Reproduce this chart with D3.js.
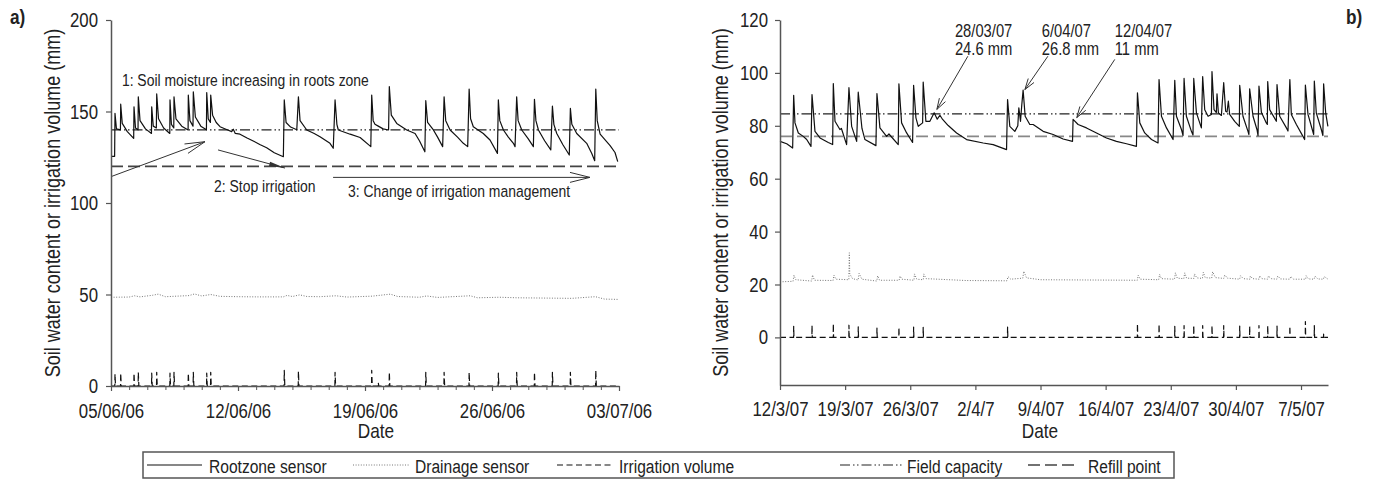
<!DOCTYPE html>
<html><head><meta charset="utf-8">
<script src="https://cdn.jsdelivr.net/npm/d3@7"></script>
<style>
body{margin:0;background:#fff;}
svg text{font-family:'Liberation Sans',Arial,Helvetica,sans-serif;fill:#222;}
</style></head><body>
<svg id="c" width="1378" height="487"></svg>
<script>
// ---------------- DATA ----------------
// Panel a: days since 05/06/2006 ; Panel b: days since 12/03/2007
const rootzoneA = [
[0,125.5],[0.2,125.5],[0.22,149],[0.3,140.5],[0.52,140],[0.535,154],[0.62,143.5],[0.9,139],[1.25,135.3],
[1.268,152.6],[1.35,141],[1.49,140],[1.505,158],[1.6,145],[1.9,140.5],[2.23,138],
[2.244,152.6],[2.33,142],[2.5,141],[2.519,159.6],[2.62,146],[2.9,141],[3.24,138],
[3.252,156.3],[3.33,143],[3.46,141],[3.473,158],[3.58,146],[3.9,142],[4.25,139.9],
[4.261,159],[4.35,145],[4.52,142],[4.537,160.8],[4.65,147],[4.95,142],[5.26,140],
[5.276,160.3],[5.36,146],[5.48,144],[5.496,159],[5.6,148],[5.8,144],[6.01,141.7],[6.4,140],[6.65,139],[6.74,140.3],[6.85,138],[7.11,137.6],[7.5,135.5],[7.84,133.9],[8.2,132],[8.58,130.2],[9.0,127.5],[9.5,125.3],
[9.55,156.3],[9.65,144],[9.9,141.5],[10.24,140],[10.33,158],[10.42,145],[10.79,139.9],[11.2,138],[11.52,136.2],[12.07,132.6],[12.25,129.9],
[12.35,156.3],[12.45,143],[12.53,139.9],[13.18,137.6],[13.73,135.8],[14.32,130.8],
[14.37,159],[14.45,145],[14.55,143],[14.73,142],[15.0,140.5],[15.3,139.9],
[15.34,163.6],[15.45,148],[15.75,143.5],[16.3,139.9],[16.76,138],[17.0,134],[17.3,128],
[17.35,155.9],[17.45,144],[17.77,139.9],[18.0,136],[18.28,130.8],
[18.36,158],[18.45,145],[18.69,139.9],[19.1,136],[19.42,132.6],[19.66,130.8],
[19.74,162.3],[19.82,146],[19.97,141.7],[20.52,138],[20.89,134.4],[21.3,127.1],
[21.35,156.3],[21.43,145],[21.63,139.9],[21.9,136],[22.18,132.6],[22.27,130.8],
[22.36,158],[22.44,145],[22.64,139.9],[23.0,135],[23.28,130.8],
[23.34,156.7],[23.42,145],[23.56,139.9],[23.9,134],[24.24,129],
[24.33,153],[24.41,143],[24.57,138],[24.9,132],[25.26,126.2],
[25.32,151.7],[25.4,143],[25.67,138],[26.22,132.6],[26.5,127],[26.66,123.1],
[26.72,162.3],[26.8,145],[26.96,137.6],[27.51,131.3],[27.78,127.6],[27.93,122.6]
];
const drainageA = [
[0,48.5],[1.0,48.6],[1.3,49.3],[1.6,48.7],[2.3,49.6],[2.6,50.2],[3.0,48.8],[4.3,49.4],[4.6,50.3],[5.0,49.2],[5.5,50],[6,49],[7,48.8],[8,48.7],[9.5,48.7],[9.7,49.5],[10.0,48.9],[10.4,49.8],[10.8,48.9],[11.5,48.8],[12.4,49.3],[13,48.6],[14.4,49.1],[15.4,50.2],[15.8,48.9],[17,48.5],[17.4,49.2],[18,48.4],[19.8,49.3],[20.2,48.2],[21.4,48.5],[22.4,48.2],[23.4,48.1],[24.4,48],[25.4,47.9],[26.7,48.8],[27.2,47.5],[28,47.3]
];
const irrigationA = [[0.22,6.5],[0.535,7],[1.268,7],[1.505,7.5],[2.244,7],[2.519,7.5],[3.252,7],[3.473,7.5],[4.261,7],[4.537,7.5],[5.276,7],[5.496,7.5],[9.55,8.5],[10.33,8],[12.35,7.5],[14.37,8.5],[14.73,2],[15.34,7.5],[17.35,7.5],[18.36,7.5],[19.74,7.5],[21.35,7],[22.36,7.5],[23.34,7.5],[24.33,7.5],[25.32,7.5],[26.72,8.5]];
const fieldCapacityA = 140, refillPointA = 120;

const rootzoneB = [
[0,74.1],[0.72,73.2],[1.36,71.6],[1.47,91.5],[1.61,81.1],[1.97,77.3],[2.5,76],[2.87,74.8],[3.33,72.2],
[3.44,91.8],[3.76,77.9],[4.3,75.4],[5.19,73.7],[5.66,72.9],
[5.73,96],[5.91,81.7],[6.44,78.6],[6.6,79],[7.16,72.9],
[7.41,94.4],[7.7,79.8],[8.24,74.1],[8.41,92.7],[8.81,79],[9.13,74.8],[10.31,72.5],
[10.42,92.2],[10.74,79.2],[11.46,76],[11.71,76.9],[12.71,72.9],
[12.78,95.9],[13.07,81.1],[13.61,77.3],[14.25,73.7],
[14.36,95.3],[14.61,83],[14.86,79.8],[15.33,81.1],
[15.39,96.5],[15.68,81.7],[16.11,81.7],[16.57,84.9],[16.9,82.5],[17.19,84],[17.48,82.4],[18.08,80.1],[18.98,77.3],[20.05,74.8],[21.84,73.5],[22.91,72.9],[24.35,71],
[24.46,89.9],[24.7,79.8],[25.24,77.9],[25.56,80],[25.67,86.8],[25.85,81.7],[25.99,88],[26.13,93.5],[26.35,83.6],[26.85,80.5],[27.21,80.5],[28.28,77.9],[29.36,76.7],[30.43,75],[31.44,74.1],
[31.5,82.4],[32.04,80.5],[32.94,79.2],[34.02,77.3],[35.09,75.4],[36.16,74.1],[37.24,73.2],[38.31,72.2],
[38.42,92.5],[38.67,81.1],[39.2,77.3],[39.93,74.8],[40.63,73.5],
[40.74,97.5],[41.0,83.6],[41.54,79.2],[42.25,74.8],
[42.43,97.2],[42.61,83.6],[43.15,78.6],[43.32,76.3],
[43.43,97.9],[43.68,83.6],[44.22,77.9],[44.39,76.5],
[44.47,97.9],[44.76,84.9],[45.29,79.2],
[45.43,98.6],[45.65,86.1],[46.01,83.6],[46.37,84.3],
[46.43,100.5],[46.65,86.1],[46.9,85],[46.97,92.1],[47.12,84.9],[47.44,83.9],
[47.69,96.3],[47.9,85.5],[48.05,85.2],[48.19,89.3],[48.33,84.3],[48.87,81.7],[49.37,79.8],
[49.41,95.3],[49.76,83.6],[50.3,77.9],[50.4,76.7],
[50.48,94],[50.84,83.6],[51.27,78.5],[51.38,76.3],
[51.48,95],[51.74,85.1],[52.27,81.1],[52.38,80.5],
[52.42,96.7],[52.63,86.1],[53.35,81.7],
[53.42,95.6],[53.71,83.6],[54.43,79.2],[54.6,78],
[54.8,97.5],[54.96,84.3],[55.5,80.5],[56.21,76],[56.39,74.8],
[56.47,95.4],[56.75,84.3],[57.36,76.7],
[57.43,96.9],[57.64,84.9],[58.18,78.6],[58.35,76.3],
[58.43,95.9],[58.65,84.9],[58.89,79.8]
];
const drainageB = [
[0,21],[1.4,21.2],[1.5,23.5],[1.7,21.8],[3.4,21.3],[3.5,23.6],[3.7,21.6],[5.7,21.5],[5.8,23.5],[6.0,22],[7.4,21.8],[7.45,32],[7.5,24],[7.8,22.2],[8.4,21.7],[8.5,24.2],[8.8,22],[10.4,21.3],[10.5,23.3],[10.7,21.6],[12.8,21.6],[12.9,23.2],[13.1,22],[14.4,21.6],[14.45,24],[14.7,22],[15.4,21.8],[15.45,24],[15.7,22.2],[17,22],[20,21.5],[24.4,21.4],[24.5,23],[24.8,22],[26.1,22.4],[26.2,25],[26.5,22.5],[28,21.8],[38.4,21.6],[38.5,23.5],[38.7,22],[40.7,21.8],[40.8,23.8],[41.0,22.2],[42.4,22],[42.5,24.4],[42.7,22.4],[43.4,22.2],[43.5,24.4],[43.7,22.4],[44.5,22.3],[44.55,24],[44.8,22.5],[45.4,22.3],[45.5,24.6],[45.7,22.6],[46.4,22.4],[46.5,24.8],[46.8,22.6],[47.7,22.3],[47.8,23.6],[48.1,22.4],[49.4,22],[49.5,23.3],[49.8,22.2],[50.5,22],[50.55,23.2],[50.8,22.2],[51.5,22],[51.55,23.3],[51.8,22.2],[52.4,22],[52.5,23.2],[52.8,22.2],[53.4,22],[53.5,23.2],[53.8,22.1],[54.8,22],[54.9,23],[55.2,22],[56.5,22],[56.55,23.3],[56.8,22.1],[57.4,22],[57.5,23.2],[57.8,22.1],[58.4,22],[58.5,23],[58.9,22]
];
const irrigationB = [[1.47,4.2],[3.44,4.6],[5.73,5.2],[7.41,4.6],[8.41,4],[10.42,3.5],[12.78,3.8],[14.36,3.9],[15.39,3.8],[24.46,3.9],[38.42,5.2],[40.74,5],[42.43,4.2],[43.43,4.5],[44.47,4.5],[45.43,4.5],[46.43,4.5],[47.69,4.5],[49.41,4.3],[50.48,4.3],[51.48,4.5],[52.42,4.5],[53.42,4.3],[54.8,4.3],[56.47,6],[57.43,4.5],[58.43,1.2]];
const fieldCapacityB = 84.5, refillPointB = 76;

const tickLabelsA = ["05/06/06","12/06/06","19/06/06","26/06/06","03/07/06"];
const tickDaysA = [0,7,14,21,28];
const tickLabelsB = ["12/3/07","19/3/07","26/3/07","2/4/7","9/4/07","16/4/07","23/4/07","30/4/07","7/5/07"];
const tickDaysB = [0,7,14,21,28,35,42,49,56];
const yTicksA = [0,50,100,150,200];
const yTicksB = [0,20,40,60,80,100,120];
const legendLabels = ["Rootzone sensor","Drainage sensor","Irrigation volume","Field capacity","Refill point"];

// ---------------- LAYOUT ----------------
const DAY = 864e5;
const startA = Date.UTC(2006,5,5), startB = Date.UTC(2007,2,12);
const spanA = 28, spanB = 58.9;
const svg = d3.select("#c");
const TICKFONT = 20.5, TITLEFONT = 22, DATEFONT = 21, LEGFONT = 19;
const K = 0.82; // horizontal condensing (narrow typeface look)

function txt(parent, x, y, str, size, anchor, rot, weight){
  const t = parent.append("text")
    .attr("transform", `translate(${x},${y})${rot?` rotate(${rot})`:""} scale(${K},1)`)
    .attr("font-size", size).attr("text-anchor", anchor||"start").text(str);
  if (weight) t.attr("font-weight", weight);
  return t;
}
function condenseAxisText(sel){
  sel.selectAll("text").each(function(){
    const t = d3.select(this);
    const x = +t.attr("x")||0, y = +t.attr("y")||0;
    t.attr("transform",`translate(${x},${y}) scale(${K},1)`).attr("x",0).attr("y",0)
     .attr("font-size",TICKFONT).attr("fill","#222");
  });
}

const styles = {
  root:{stroke:"#111", w:1.2, dash:null},
  drain:{stroke:"#777", w:1, dash:"1,1.6"},
  irr:{stroke:"#111", w:1.2, dash:"6,3.5"},
  fc:{stroke:"#222", w:1.2, dash:"10,3,1.5,2.5,1.5,3"},
  rp:{stroke:"#444", w:1.6, dash:"12,5"}
};

function panel(o){
  const x = d3.scaleUtc().domain([new Date(o.start), new Date(o.start + o.span*DAY)]).range(o.xr);
  const y = d3.scaleLinear().domain(o.yd).range(o.yr);
  const X = d => x(new Date(o.start + d*DAY));
  const g = svg.append("g");
  const line = d3.line().x(d=>X(d[0])).y(d=>y(d[1]));

  const ref = (v, st) => g.append("path").attr("d", line([[0,v],[o.span,v]]))
      .attr("fill","none").attr("stroke",st.stroke).attr("stroke-width",st.w).attr("stroke-dasharray",st.dash);
  ref(o.rp, o.rpStyle || styles.rp);
  ref(o.fc, styles.fc);

  const irrPts = [[0,0]];
  o.irr.forEach(e => { irrPts.push([e[0]-0.01,0],[e[0],e[1]],[e[0]+0.03,0]); });
  irrPts.push([o.span,0]);
  const draw = (data, st) => g.append("path").attr("d", line(data)).attr("fill","none")
      .attr("stroke",st.stroke).attr("stroke-width",st.w).attr("stroke-dasharray",st.dash).attr("stroke-linejoin","round");
  draw(o.drain, styles.drain);
  draw(irrPts, styles.irr);
  draw(o.root, styles.root);

  const xAxis = d3.axisBottom(x).tickValues(o.tickDays.map(d=>new Date(o.start+d*DAY)))
      .tickFormat((d,i)=>o.tickLabels[i]).tickSize(5).tickSizeOuter(0).tickPadding(o.xpad);
  const gx = svg.append("g").attr("transform",`translate(0,${o.yr[0]})`).call(xAxis);
  if (o.minor){
    svg.append("g").attr("transform",`translate(0,${o.yr[0]})`)
      .call(d3.axisBottom(x).tickValues(d3.range(0,o.span+1).map(d=>new Date(o.start+d*DAY))).tickFormat("").tickSize(4).tickSizeOuter(0))
      .call(s=>s.select(".domain").remove())
      .call(s=>s.selectAll(".tick line").attr("stroke","#555"));
  }
  const yAxis = d3.axisLeft(y).tickValues(o.yTicks).tickSize(5).tickSizeOuter(0).tickPadding(o.ypad);
  const gy = svg.append("g").attr("transform",`translate(${o.xr[0]},0)`).call(yAxis);
  [gx,gy].forEach(s=>{
    s.attr("font-family",null).attr("font-size",null);
    s.selectAll(".domain").attr("stroke","#555").attr("stroke-width",1.5);
    s.selectAll(".tick line").attr("stroke","#555").attr("stroke-width",1.2);
    condenseAxisText(s);
  });

  txt(svg, o.titleX, (o.yr[0]+o.yr[1])/2, "Soil water content or irrigation volume (mm)", TITLEFONT, "middle", -90);
  txt(svg, o.dateX, 438, "Date", DATEFONT, "middle");
  txt(svg, o.tagX, 24, o.tag, 21, "start", 0, "bold");
  return {X,y,g};
}

function arrow(g, x1,y1,x2,y2, L, W, filled){
  const dx=x2-x1, dy=y2-y1, len=Math.hypot(dx,dy), ux=dx/len, uy=dy/len;
  const bx=x2-ux*L, by=y2-uy*L, px=-uy*W, py=ux*W;
  g.append("line").attr("x1",x1).attr("y1",y1).attr("x2",x2).attr("y2",y2).attr("stroke","#333").attr("stroke-width",1);
  if (filled){
    g.append("path").attr("d",`M${x2},${y2}L${bx+px},${by+py}L${bx-px},${by-py}Z`).attr("fill","#333");
  } else {
    g.append("path").attr("d",`M${bx+px},${by+py}L${x2},${y2}L${bx-px},${by-py}`).attr("fill","none").attr("stroke","#333").attr("stroke-width",1);
  }
}

const A = panel({start:startA, span:spanA, xr:[111,619], yd:[0,200], yr:[386,20],
  root:rootzoneA, drain:drainageA, irr:irrigationA, fc:fieldCapacityA, rp:refillPointA,
  tickDays:tickDaysA, tickLabels:tickLabelsA, yTicks:yTicksA, minor:true, xpad:12, ypad:8,
  titleX:60, dateX:376, tagX:10, tag:"a)"});
const B = panel({start:startB, span:spanB, xr:[780,1328], yd:[-18,120], yr:[385,20],
  root:rootzoneB, drain:drainageB, irr:irrigationB, fc:fieldCapacityB, rp:refillPointB,
  rpStyle:{stroke:"#888", w:1.6, dash:"12,5"},
  tickDays:tickDaysB, tickLabels:tickLabelsB, yTicks:yTicksB, minor:false, xpad:11, ypad:7,
  titleX:728, dateX:1040, tagX:1346, tag:"b)"});

// annotations panel a
const annA = [
  {text:"1: Soil moisture increasing in roots zone", d:0.6, v:164},
  {text:"2: Stop irrigation", d:5.68, v:106},
  {text:"3: Change of irrigation management", d:13.06, v:103.3}
];
annA.forEach(a=>txt(A.g, A.X(a.d), A.y(a.v), a.text, 17, "start"));
arrow(A.g, A.X(0), A.y(114.4), A.X(5.18), A.y(133.5), 20, 5, false);
arrow(A.g, A.X(5.9), A.y(129), A.X(9.59), A.y(119.1), 16, 2.2, true);
arrow(A.g, A.X(12.24), A.y(114), A.X(26.4), A.y(114), 20, 5, false);

// annotations panel b
const annB = [
  {lines:["28/03/07","24.6 mm"], d:18.8, v:113.6, from:[20.19,106.3], to:[16.86,86.2]},
  {lines:["6/04/07","26.8 mm"], d:28.14, v:113.6, from:[28.79,106.3], to:[26.32,93.7]},
  {lines:["12/04/07","11 mm"], d:35.98, v:113.6, from:[35.98,105.1], to:[31.9,83.1]}
];
annB.forEach(a=>{
  a.lines.forEach((l,i)=>txt(B.g, B.X(a.d), B.y(a.v)+i*18, l, 18, "start"));
  arrow(B.g, B.X(a.from[0]), B.y(a.from[1]), B.X(a.to[0]), B.y(a.to[1]), 11, 3.5, false);
});

// legend
const lg = svg.append("g");
lg.append("rect").attr("x",143).attr("y",452).attr("width",1031).attr("height",26)
  .attr("fill","none").attr("stroke","#555").attr("stroke-width",1.5);
const legendKeys = ["root","drain","irr","fc","rp"];
const legendPos = [[147,202,209],[353,409,415],[557,612,619],[840,902,907],[1028,1078,1088]];
legendLabels.forEach((lab,i)=>{
  const st = styles[legendKeys[i]], p = legendPos[i];
  lg.append("line").attr("x1",p[0]).attr("x2",p[1]).attr("y1",465).attr("y2",465)
    .attr("stroke",st.stroke).attr("stroke-width",st.w).attr("stroke-dasharray",st.dash);
  txt(lg, p[2], 472.5, lab, LEGFONT, "start");
});
</script>
</body></html>
